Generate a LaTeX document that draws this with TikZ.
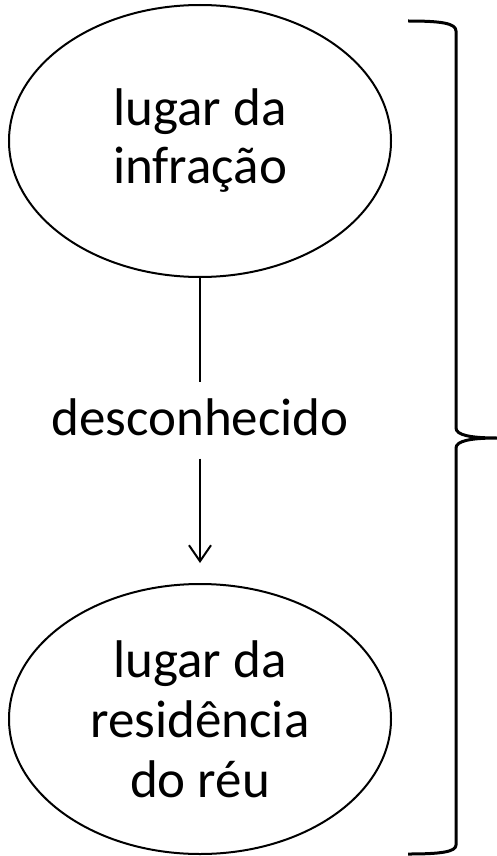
\documentclass[tikz,border=0pt]{standalone}
\usepackage{fontspec}
\setmainfont{Carlito}
\usetikzlibrary{shapes.geometric,arrows.meta}
\tikzset{
  oval/.style={ellipse,draw,line width=2pt,minimum width=382pt,minimum height=272pt,inner sep=0pt,align=center,font=\fontsize{53}{58}\selectfont},
  conn/.style={line width=2pt},
  bracestyle/.style={line width=3pt,line join=round}
}
\begin{document}
\begin{tikzpicture}[x=1pt,y=-1pt]
\useasboundingbox (0,0) rectangle (497,856);
\node[oval] (top) at (200,141) {lugar da\\infração};
\node[oval,minimum height=270pt,font=\fontsize{53}{60}\selectfont] (bot) at (200,719) {lugar da\\residência\\do réu};
\node[inner sep=0pt,anchor=base,font=\fontsize{53}{60}\selectfont] (lbl) at (200,435) {desconhecido};
\draw[conn,shorten >=16pt] (top.south) -- (lbl.north);
\draw[conn,shorten <=23pt,shorten >=20pt,-{Straight Barb[length=16pt,width=22pt,line width=2pt]}] (lbl.south) -- (bot.north);
\coordinate (bt) at (408,21);
\coordinate (bm) at (497,438);
\coordinate (bb) at (408,854);
\draw[bracestyle] (bt) .. controls (440,21) and (456,23) .. (456,31) -- (456,428)
  .. controls (456,435) and (470,438) .. (bm)
  .. controls (470,438) and (456,441) .. (456,448) -- (456,845)
  .. controls (456,852) and (440,854) .. (bb);
\end{tikzpicture}
\end{document}
